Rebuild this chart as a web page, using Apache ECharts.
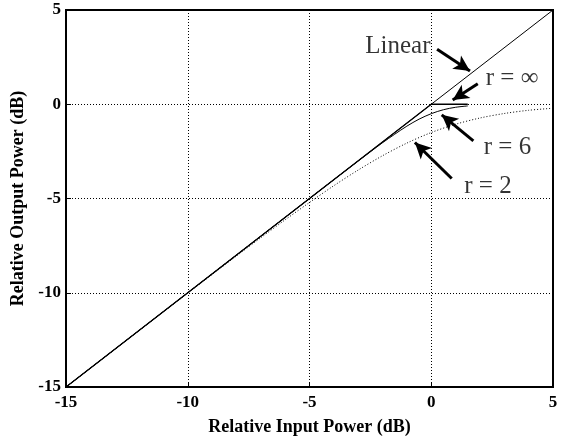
<!DOCTYPE html>
<html>
<head>
<meta charset="utf-8">
<script src="https://cdn.jsdelivr.net/npm/echarts@6/dist/echarts.min.js"></script>
<style>
html,body{margin:0;padding:0;background:#fff;}
#chart{width:563px;height:441px;}
</style>
</head>
<body>
<div id="chart"></div>
<script>
// Axis ticks
const xTicks = [-15, -10, -5, 0, 5];
const yTicks = [-15, -10, -5, 0, 5];

// Series: [input dB, output dB]
const linearData = [[-15, -15], [5, 5]];
const rInfData = [[-15, -15], [0, 0], [1.5, 0]];
const r6Data = [[-15, -15], [-5, -5], [-4, -4.0], [-3, -3.01], [-2.5, -2.52], [-2, -2.04], [-1.5, -1.59], [-1, -1.16], [-0.5, -0.79], [0, -0.50], [0.5, -0.29], [1, -0.16], [1.5, -0.09]];
const r2Data = [[-15, -15], [-12, -12.01], [-10, -10.02], [-8, -8.05], [-7, -7.08], [-6, -6.13], [-5, -5.21], [-4, -4.32], [-3, -3.49], [-2, -2.73], [-1, -2.06], [0, -1.50], [1, -1.06], [2, -0.73], [3, -0.49], [4, -0.32], [5, -0.21]];

// Annotation labels (text, [x, y] in data units)
const annoNames = ['Linear', 'r = \u221E', 'r = 6', 'r = 2'];
const annoPos = [[-1.37, 3.07], [3.32, 1.35], [3.13, -2.29], [2.33, -4.38]];
// Arrows: [tail, head] in data units
const arrows = [
  [[0.24, 2.92], [1.59, 1.77]],
  [[1.91, 1.09], [0.88, 0.22]],
  [[1.73, -1.94], [0.43, -0.56]],
  [[0.84, -3.94], [-0.67, -2.03]]
];

const chart = echarts.init(document.getElementById('chart'), null, {renderer: 'canvas'});
const serif = '"Liberation Serif", "Times New Roman", serif';

const option = {
  animation: false,
  backgroundColor: '#fff',
  grid: {left: 66, right: 10, top: 10, bottom: 48, show: true, borderColor: '#000', borderWidth: 2, backgroundColor: 'transparent'},
  xAxis: {
    type: 'value', min: xTicks[0], max: xTicks[xTicks.length - 1], interval: 5,
    name: 'Relative Input Power (dB)', nameLocation: 'middle', nameGap: 31,
    nameTextStyle: {fontFamily: serif, fontWeight: 'bold', fontSize: 18, color: '#000'},
    axisLine: {show: true, onZero: false, lineStyle: {color: '#000', width: 2}},
    axisTick: {show: true, inside: true, length: 5, lineStyle: {color: '#000'}},
    axisLabel: {fontFamily: serif, fontWeight: 'bold', fontSize: 17, color: '#000', margin: 7},
    splitLine: {show: true, lineStyle: {color: '#000', type: [1, 2], width: 1}}
  },
  yAxis: {
    type: 'value', min: yTicks[0], max: yTicks[yTicks.length - 1], interval: 5,
    name: 'Relative Output Power (dB)', nameLocation: 'middle', nameGap: 30,
    nameTextStyle: {fontFamily: serif, fontWeight: 'bold', fontSize: 18, color: '#000'},
    axisLine: {show: true, onZero: false, lineStyle: {color: '#000', width: 2}},
    axisTick: {show: true, inside: true, length: 5, lineStyle: {color: '#000'}},
    axisLabel: {fontFamily: serif, fontWeight: 'bold', fontSize: 17, color: '#000', margin: 5},
    splitLine: {show: true, lineStyle: {color: '#000', type: [1, 2], width: 1}}
  },
  series: [
    {type: 'line', name: 'Linear', data: linearData, showSymbol: false, symbol: 'none', lineStyle: {color: '#000', width: 1}, silent: true, z: 3},
    {type: 'line', name: 'r=inf', data: rInfData, showSymbol: false, symbol: 'none', lineStyle: {color: '#000', width: 1.3}, silent: true, z: 3},
    {type: 'line', name: 'r=6', data: r6Data, smooth: 0.3, showSymbol: false, symbol: 'none', lineStyle: {color: '#000', width: 1}, silent: true, z: 3},
    {type: 'line', name: 'r=2', data: r2Data, smooth: 0.3, showSymbol: false, symbol: 'none', lineStyle: {color: '#000', width: 1, type: [1, 2]}, silent: true, z: 3,
      markLine: {
        silent: true, symbol: ['none', 'arrow'], symbolSize: [12, 16], precision: 2,
        label: {show: false},
        lineStyle: {color: '#000', width: 3, type: 'solid'},
        data: arrows.map(a => [{coord: a[0]}, {coord: a[1]}])
      }
    },
    {type: 'scatter', name: 'labels', symbolSize: 0, silent: true, z: 5,
      data: annoNames.map((n, i) => ({name: n, value: annoPos[i]})),
      label: {show: true, position: 'inside', formatter: p => p.name, fontFamily: serif, fontSize: 25, color: '#000', textBorderWidth: 0, textBorderColor: 'transparent'}
    }
  ]
};
chart.setOption(option);
</script>
</body>
</html>
